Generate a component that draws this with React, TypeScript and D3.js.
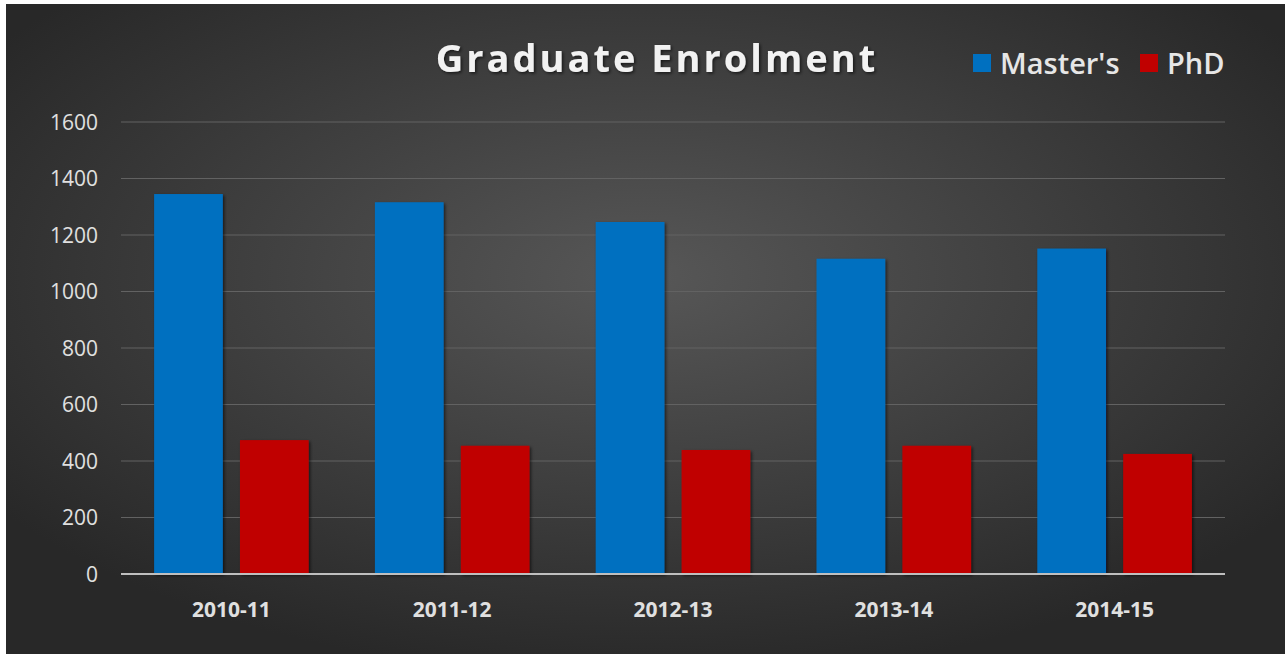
// @ts-nocheck
import React, { useEffect, useRef } from "react";
import * as d3 from "d3";

const categories = ["2010-11", "2011-12", "2012-13", "2013-14", "2014-15"];
const masters = [1345, 1316, 1246, 1116, 1152];
const phd = [474, 454, 439, 454, 425];
const seriesNames = ["Master's", "PhD"];
const yTicks = [0, 200, 400, 600, 800, 1000, 1200, 1400, 1600];

export default function App() {
  const ref = useRef();

  useEffect(() => {
    const root = d3.select(ref.current);
    root.selectAll("*").remove();

    const W = 1285;
    const H = 654;
    const margin = { top: 122, right: 60, bottom: 80, left: 121 };
    const colors = ["#0070c0", "#c00000"];

    const svg = root.append("svg").attr("width", W).attr("height", H);

    const defs = svg.append("defs");
    const grad = defs
      .append("radialGradient")
      .attr("id", "bg")
      .attr("cx", "50%")
      .attr("cy", "42%")
      .attr("r", "62%");
    grad.append("stop").attr("offset", "0%").attr("stop-color", "#575757");
    grad.append("stop").attr("offset", "100%").attr("stop-color", "#282828");

    const shadow = defs.append("filter").attr("id", "shadow");
    shadow
      .append("feDropShadow")
      .attr("dx", 1.5)
      .attr("dy", 1.5)
      .attr("stdDeviation", 1.5)
      .attr("flood-color", "#000")
      .attr("flood-opacity", 0.6);

    // white page, then dark chart area
    svg.append("rect").attr("width", W).attr("height", H).attr("fill", "#fff");
    svg
      .append("rect")
      .attr("x", 6)
      .attr("y", 4)
      .attr("width", W - 6)
      .attr("height", H - 4)
      .attr("fill", "url(#bg)");

    const width = W - margin.left - margin.right;
    const height = 574 - margin.top;
    const g = svg
      .append("g")
      .attr("transform", `translate(${margin.left},${margin.top})`);

    const x0 = d3.scaleBand().domain(categories).range([0, width]).paddingInner(0.3).paddingOuter(0.15);
    const x1 = d3.scaleBand().domain(seriesNames).range([0, x0.bandwidth()]).paddingInner(0.2);
    const y = d3.scaleLinear().domain([0, 1600]).range([height, 0]);

    // gridlines
    g.selectAll(".grid")
      .data(yTicks.slice(1))
      .enter()
      .append("line")
      .attr("x1", 0)
      .attr("x2", width)
      .attr("y1", (d) => y(d))
      .attr("y2", (d) => y(d))
      .attr("stroke", "#626262")
      .attr("stroke-width", 1);

    // y labels
    g.selectAll(".ylab")
      .data(yTicks)
      .enter()
      .append("text")
      .attr("x", -23)
      .attr("y", (d) => y(d))
      .attr("dy", "0.36em")
      .attr("text-anchor", "end")
      .style("font-family", "'Open Sans', sans-serif")
      .style("font-size", "21px")
      .style("fill", "#e0e0e0")
      .text((d) => d);

    // bars
    const data = categories.map((c, i) => ({ cat: c, vals: [masters[i], phd[i]] }));
    const groups = g
      .selectAll(".grp")
      .data(data)
      .enter()
      .append("g")
      .attr("transform", (d) => `translate(${x0(d.cat)},0)`);
    groups
      .selectAll("rect")
      .data((d) => d.vals.map((v, j) => ({ name: seriesNames[j], v, j })))
      .enter()
      .append("rect")
      .attr("x", (d) => x1(d.name))
      .attr("width", x1.bandwidth())
      .attr("y", (d) => y(d.v))
      .attr("height", (d) => height - y(d.v))
      .attr("fill", (d) => colors[d.j])
      .attr("filter", "url(#shadow)");

    // x axis line
    g.append("line")
      .attr("x1", 0)
      .attr("x2", width)
      .attr("y1", height)
      .attr("y2", height)
      .attr("stroke", "#bfbfbf")
      .attr("stroke-width", 2);

    // category labels
    g.selectAll(".xlab")
      .data(categories)
      .enter()
      .append("text")
      .attr("x", (d) => x0(d) + x0.bandwidth() / 2)
      .attr("y", height + 43)
      .attr("text-anchor", "middle")
      .style("font-family", "'Open Sans', sans-serif")
      .style("font-size", "21px")
      .style("font-weight", "bold")
      .style("fill", "#e0e0e0")
      .text((d) => d);

    // title
    svg
      .append("text")
      .attr("x", 657)
      .attr("y", 72)
      .attr("text-anchor", "middle")
      .style("font-family", "'Open Sans', sans-serif")
      .style("font-size", "38px")
      .style("font-weight", "bold")
      .style("letter-spacing", "3px")
      .style("fill", "#f2f2f2")
      .attr("filter", "url(#shadow)")
      .text("Graduate Enrolment");

    // legend
    const legend = svg.append("g").attr("transform", "translate(973,54)");
    const items = [
      { name: seriesNames[0], x: 0 },
      { name: seriesNames[1], x: 167 },
    ];
    items.forEach((it, i) => {
      legend
        .append("rect")
        .attr("x", it.x)
        .attr("y", 0)
        .attr("width", 18)
        .attr("height", 18)
        .attr("fill", colors[i]);
      legend
        .append("text")
        .attr("x", it.x + 27)
        .attr("y", 20)
        .style("font-family", "'Open Sans', sans-serif")
        .style("font-size", "29px")
        .style("font-weight", "600")
        .style("fill", "#e6e6e6")
        .text(it.name);
    });
  }, []);

  return (
    <div
      ref={ref}
      style={{ position: "absolute", left: 0, top: 0, width: 1285, height: 654 }}
    ></div>
  );
}
